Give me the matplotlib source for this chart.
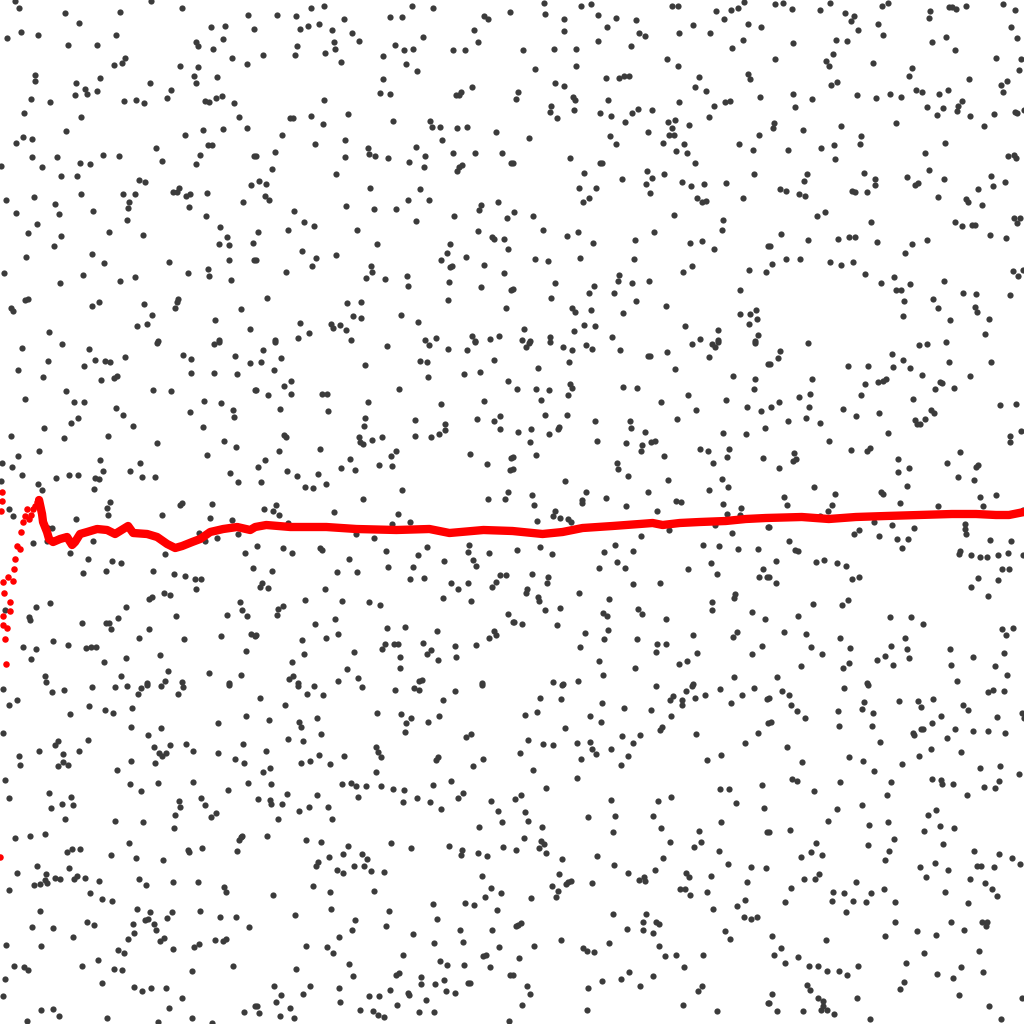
import numpy as np
import matplotlib
matplotlib.use("Agg")
import matplotlib.pyplot as plt

# sample index (0..1023) and sample value (0..1024 scale)
dots_upper = [
    (15,1023), (19,1016), (65,1011), (79,1001), (120,1012), (151,1023), (182,1016), (248,1009), (211,997), (225,998),
    (254,995), (7,986), (21,992), (38,989), (68,979), (97,979), (116,989), (196,982), (198,978), (213,975),
    (223,985), (232,966), (247,960), (125,966), (122,961), (114,959), (180,958), (198,957), (194,948), (196,941),
    (217,947), (35,949), (35,943), (76,941), (100,946), (85,935), (87,930), (75,929), (97,933), (150,941),
    (171,934), (167,926), (31,925), (50,922), (124,923), (136,924), (144,921), (205,923), (209,922), (216,926),
    (222,928), (234,921), (24,911), (81,907), (239,907), (66,893), (23,887), (32,885), (16,881), (203,894),
    (223,895), (247,896), (185,889), (156,876), (208,879), (212,879), (32,867), (57,867), (1,858), (42,857),
    (80,861), (90,860), (103,869), (119,868), (162,863), (200,869), (196,860), (254,868), (61,848), (77,848),
    (139,844), (145,842), (251,839), (6,824), (34,827), (16,811), (55,820), (59,810), (81,830), (93,813),
    (123,830), (135,830), (129,822), (128,816), (127,804), (173,832), (177,832), (179,836), (186,828), (190,830),
    (207,831), (189,817), (206,808), (243,822), (37,800), (28,791), (61,788), (54,778), (109,792), (143,789),
    (220,797), (227,787), (219,780), (229,779), (253,781), (26,767), (92,770), (104,761), (169,762), (229,764),
    (254,764), (4,751), (60,741), (83,749), (120,743), (135,747), (188,751), (208,755), (209,748), (231,744),
    (25,724), (28,725), (11,716), (13,713), (92,718), (99,722), (144,720), (152,709), (175,716), (177,722),
    (178,725), (137,698), (147,700), (215,704), (241,715), (250,695), (49,692), (219,684), (158,683),
    (277,1009), (296,1008), (311,1016), (324,1018), (300,995), (308,998), (319,1000), (332,994), (344,1005), (352,991),
    (359,983), (334,982), (335,975), (325,971), (341,962), (297,978), (295,969), (263,969), (390,1007), (402,1007),
    (412,1018), (433,1016), (395,979), (404,974), (413,975), (383,968), (406,960), (417,953), (423,987), (453,974),
    (465,974), (474,994), (478,982), (484,1008), (488,1005), (510,1012), (383,945), (380,931), (390,930), (456,929),
    (459,929), (461,932), (472,937), (324,924), (290,906), (293,906), (311,908), (323,900), (348,910), (393,903),
    (430,903), (432,897), (440,897), (457,896), (467,897), (442,884), (496,892), (282,889), (315,880), (345,884),
    (275,872), (345,867), (368,876), (369,870), (375,868), (388,866), (416,877), (409,862), (425,868), (424,857),
    (453,871), (475,871), (502,871), (511,861), (256,868), (272,855), (336,850), (457,853), (459,857), (462,859),
    (259,843), (266,840), (265,828), (269,824), (370,836), (420,835), (408,824), (429,824), (346,818), (374,815),
    (396,815), (294,813), (304,802), (314,798), (288,794), (258,792), (357,794), (416,803), (454,808), (479,814),
    (481,819), (498,822), (507,806), (478,793), (492,787), (494,785), (504,785), (508,775), (450,780), (447,771),
    (441,764), (450,757), (452,758), (466,767), (484,759), (504,751), (449,742), (481,737), (511,734), (302,773),
    (316,766), (312,758), (336,769), (377,780), (256,764), (286,752), (371,758), (372,752), (366,746), (385,745),
    (407,748), (408,738), (267,726), (347,721), (361,722), (448,724), (506,716), (300,701), (331,700), (333,696),
    (340,699), (353,708), (361,706), (346,694), (401,709), (418,702), (309,691), (298,686), (275,684), (351,684),
    (425,684), (436,686), (472,688), (475,683), (490,685), (499,688),
    (543,1021), (580,1018), (590,1020), (544,1010), (563,1005), (563,993), (597,1009), (606,997), (615,1006), (635,1004),
    (638,991), (644,988), (597,983), (630,978), (553,975), (575,975), (522,974), (671,1018), (677,1018), (678,991),
    (692,999), (709,991), (715,1013), (723,1005), (730,1014), (737,1016), (743,1022), (747,1000), (760,997), (742,984),
    (731,976), (666,965), (677,958), (534,955), (575,958), (554,941), (563,938), (605,946), (618,946), (623,948),
    (628,948), (698,947), (694,937), (705,933), (747,950), (749,945), (517,932), (515,925), (572,927), (574,924),
    (550,918), (549,912), (556,906), (573,914), (607,924), (599,911), (610,908), (624,902), (631,911), (637,915),
    (651,914), (678,922), (713,918), (724,922), (729,923), (759,927), (708,907), (667,902), (674,904), (671,896),
    (668,889), (673,889), (688,899), (528,886), (609,888), (615,880), (647,892), (662,881), (683,880), (675,873),
    (686,871), (738,880), (752,874), (758,889), (512,861), (569,866), (599,861), (601,861), (583,851), (621,845),
    (646,853), (651,846), (645,840), (649,831), (663,850), (681,842), (690,838), (703,840), (694,861), (725,841),
    (753,850), (578,836), (595,836), (588,826), (582,822), (696,826), (701,822), (705,823), (742,826), (513,812),
    (532,808), (542,794), (566,788), (577,792), (592,781), (673,809), (653,792), (634,784), (689,781), (701,783),
    (713,775), (721,794), (722,804), (767,778), (534,765), (547,763), (579,766), (633,765), (682,752), (691,758),
    (748,754), (765,752), (512,735), (554,741), (550,726), (593,738), (588,731), (618,749), (617,743), (631,741),
    (613,731), (635,723), (648,743), (665,718), (739,734), (755,714), (571,716), (574,712), (590,714), (622,711),
    (583,699), (594,698), (573,693), (523,695), (521,684), (529,683), (549,687), (611,687), (684,698), (699,685),
    (717,694), (717,684), (739,710), (749,710), (756,705), (748,700), (757,689), (754,683),
    (774,1020), (782,1021), (791,1015), (819,1014), (829,1021), (844,1011), (853,1008), (850,1003), (857,994), (881,1018),
    (887,1021), (877,1000), (882,989), (835,984), (846,983), (792,981), (774,965), (825,963), (828,958), (832,970),
    (872,961), (929,1013), (928,1006), (948,1017), (951,1017), (955,1015), (965,1018), (1002,1020), (1014,1014), (1010,997),
    (1016,986), (931,982), (945,987), (954,974), (995,966), (1020,965), (1018,954), (911,956), (908,948), (830,939),
    (836,942), (792,930), (811,925), (794,917), (856,929), (875,926), (889,930), (900,927), (915,934), (921,932),
    (938,930), (947,934), (968,945), (1000,939), (1006,943), (1002,932), (926,917), (936,909), (942,916), (956,913),
    (957,918), (961,923), (969,908), (993,910), (1014,912), (1016,911), (1023,914), (773,901), (772,896), (802,894),
    (840,898), (860,888), (859,880), (833,879), (820,876), (787,874), (834,865), (895,901), (944,881), (924,871),
    (983,898), (1007,868), (1013,869), (1015,866), (806,850), (803,843), (779,835), (785,833), (798,830), (804,828),
    (863,851), (874,845), (874,839), (851,833), (854,832), (866,832), (906,847), (914,839), (917,841), (928,854),
    (943,845), (937,827), (965,825), (967,822), (977,835), (981,819), (990,848), (992,838), (1004,842), (824,812),
    (816,808), (870,802), (780,790), (807,784), (837,785), (848,787), (854,787), (876,782), (769,778), (785,765),
    (799,765), (771,760), (829,762), (840,759), (852,762), (864,750), (880,741), (893,747), (895,734), (900,734),
    (904,771), (911,780), (926,784), (954,802), (961,798), (971,799), (974,799), (989,789), (1005,786), (1013,806),
    (1016,801), (1019,806), (909,740), (903,723), (902,708), (943,743), (932,725), (937,716), (962,731), (975,730),
    (974,717), (976,712), (988,705), (949,704), (984,690), (1009,729), (1012,753), (1017,748), (1022,754),
]

dots_middle = [
    (22,676), (62,680), (89,675), (157,681), (214,680), (219,682), (18,654), (48,663), (84,658), (95,664),
    (105,663), (110,662), (125,667), (183,669), (191,665), (191,651), (214,651), (235,668), (237,650), (250,661),
    (43,647), (101,644), (114,646), (117,648), (153,634), (171,633), (25,625), (66,633), (74,622), (84,622),
    (116,616), (123,609), (190,612), (204,623), (221,621), (233,614), (234,607), (255,634), (71,601), (78,606),
    (44,596), (133,598), (203,597), (11,588), (64,586), (108,588), (157,581), (224,583), (236,577), (39,573),
    (18,568), (207,569), (2,561), (12,557), (100,564), (140,561), (22,549), (56,546), (69,549), (78,549),
    (95,546), (99,545), (103,553), (130,553), (142,547), (155,547), (230,551), (238,542), (1,543), (38,540),
    (42,534), (94,535), (110,522), (107,516), (108,509), (162,509), (180,519), (182,521), (212,520), (210,506),
    (232,504), (9,515), (13,508), (76,505), (48,496), (52,496), (33,481), (47,483), (70,471), (93,483),
    (199,491), (205,483), (217,486), (238,490), (245,471), (253,456), (88,465), (112,463), (121,461), (106,453),
    (83,451), (153,453), (165,470), (174,450), (185,448), (195,445), (201,445), (196,435), (164,431), (170,429),
    (149,425), (152,427), (126,417), (36,417), (50,421), (5,414), (29,407), (30,404), (82,401), (106,401),
    (109,401), (111,395), (118,406), (149,395), (139,386), (176,408), (184,385), (227,409), (240,422), (242,414),
    (247,408), (251,390), (255,388), (221,388), (246,373), (23,377), (36,375), (53,383), (68,379), (86,376),
    (91,377), (96,377), (104,362), (126,366), (160,369), (31,365), (45,348), (46,342), (121,348), (168,353),
    (165,343), (182,342), (147,341), (209,351), (229,341), (241,349),
    (275,682), (263,674), (261,662), (281,666), (274,654), (256,634), (268,629), (284,638), (291,630), (291,643),
    (322,630), (327,630), (328,613), (280,615), (365,659), (368,622), (365,606), (364,598), (359,587), (360,582),
    (363,580), (372,584), (382,587), (387,678), (420,663), (427,662), (428,647), (429,679), (448,675), (467,674),
    (475,682), (464,650), (480,652), (494,664), (508,643), (399,635), (441,620), (445,600), (445,594), (439,590),
    (431,587), (415,604), (415,588), (484,623), (477,605), (494,603), (500,608), (500,595), (284,589), (286,587),
    (279,573), (320,575), (265,564), (258,557), (287,553), (297,548), (318,550), (326,540), (305,537), (313,536),
    (261,542), (350,565), (341,556), (355,554), (379,559), (391,568), (396,573), (392,558), (402,534), (363,525),
    (470,570), (487,560), (511,566), (510,554), (508,532), (505,525), (488,525), (264,515), (273,513), (276,519),
    (279,509), (334,512), (398,510), (410,502), (392,500), (288,501),
    (356,490), (374,486), (257,478), (283,476), (292,471), (320,476), (322,474), (349,465), (337,452), (357,452),
    (386,473), (388,457), (418,469), (427,477), (413,457), (410,445), (424,446), (444,463), (469,479), (468,472),
    (473,464), (476,458), (489,471), (500,449), (506,449), (496,442), (492,437), (451,441), (458,435), (468,441),
    (443,426), (471,423), (272,453), (262,441), (260,437), (268,436), (325,435), (305,424), (342,423), (283,418),
    (278,415), (277,409), (369,422), (380,419), (335,405), (315,400), (256,389), (338,390), (326,386), (302,384),
    (304,370), (354,372), (387,396), (405,397), (385,380), (382,375), (394,380), (398,380), (400,367), (400,356),
    (423,381), (431,374), (427,370), (438,364), (437,393), (455,378), (456,367), (476,379), (489,386), (494,393),
    (496,389), (508,410), (512,402), (292,362), (289,345), (293,348), (347,355), (358,346), (338,343), (419,343),
    (422,344), (482,341), (298,341),
    (525,677), (528,681), (549,682), (562,677), (571,674), (585,679), (591,675), (619,674), (647,668), (649,668),
    (666,672), (691,680), (708,667), (711,680), (714,677), (717,682), (754,681), (767,660), (537,656), (568,662),
    (674,655), (732,648), (754,645), (516,635), (535,635), (548,634), (540,624), (569,640), (571,636), (567,629),
    (622,637), (636,636), (660,622), (687,629), (695,614), (725,624), (746,617), (753,635), (760,613), (544,609),
    (566,609), (594,603), (629,603), (630,596), (644,592), (676,605), (722,591), (745,590), (764,596), (517,592),
    (530,595), (548,590), (557,595), (558,597), (529,582), (535,569), (596,583), (625,581), (641,579), (640,573),
    (650,582), (654,583), (663,568), (699,575), (707,573), (712,561), (728,575), (726,567), (762,566), (512,567),
    (512,555), (616,561), (617,555), (627,548), (667,544), (564,543), (531,529), (533,519), (581,524), (581,521),
    (585,532), (605,526), (625,518), (647,532), (656,513), (675,523), (680,522), (708,534), (721,545), (727,537),
    (722,520), (740,516), (726,510), (739,509), (554,513), (552,508), (559,506), (567,505), (570,502), (536,503),
    (668,494), (640,488), (714,499), (731,491), (767,497), (539,477), (516,474), (551,470), (614,479), (603,472),
    (632,473), (702,479), (718,478), (737,475), (757,475), (598,456), (616,462), (624,456), (687,455), (710,461),
    (716,450), (762,455), (758,447), (766,447), (531,450), (547,447), (546,441), (526,435), (525,431), (537,427),
    (538,423), (544,414), (559,416), (578,431), (608,425), (602,411), (606,408), (632,440), (659,441), (637,415),
    (641,410), (665,405), (711,422), (711,414), (734,430), (733,426), (751,412), (764,405), (513,402), (521,400),
    (556,399), (584,391), (607,394), (603,385), (579,377), (636,385), (656,380), (665,380), (655,372), (692,389),
    (696,371), (732,387), (736,392), (761,378), (751,370), (598,363), (634,356), (678,360), (686,363), (602,349),
    (552,342), (562,340), (577,343), (733,347), (692,340),
    (807,681), (779,673), (777,666), (769,660), (847,658), (867,658), (891,670), (892,657), (902,664), (909,656),
    (918,679), (926,680), (945,682), (921,649), (948,662), (990,662), (811,645), (798,627), (809,630), (808,617),
    (770,617), (778,622), (787,603), (805,606), (819,601), (842,615), (855,608), (864,640), (860,629), (877,642),
    (882,643), (885,645), (878,611), (887,591), (912,625), (934,635), (939,642), (941,641), (953,636), (969,648),
    (914,604), (916,600), (919,600), (924,605), (930,614), (933,611), (999,619), (1015,620), (1009,588), (1009,582),
    (1020,593), (828,583), (850,574), (866,573), (869,576), (793,571), (792,563), (795,565), (778,556), (897,565),
    (897,552), (908,556), (906,538), (946,561), (959,572), (957,547), (973,544), (975,557), (977,559), (813,537),
    (783,527), (786,519), (834,530), (831,519), (827,513), (819,508), (880,532), (882,530), (899,521), (937,518),
    (979,527), (982,518), (995,529), (1022,514),
    (768,497), (873,502), (891,499), (913,496), (878,488), (896,485), (907,485), (901,476), (853,490), (858,494),
    (964,500), (964,495), (965,490), (959,473), (958,470), (970,469), (979,467), (986,467), (989,484), (997,469),
    (1007,471), (1010,483), (1022,469), (1001,455), (1008,455), (977,446), (970,437), (997,444), (987,428), (788,483),
    (794,474), (797,473), (775,463), (815,462), (823,464), (836,461), (845,458), (851,445), (858,447), (775,441),
    (768,447), (812,420), (847,424), (841,419), (797,408), (889,407), (910,407), (922,400), (783,392), (805,390),
    (839,386), (810,377), (821,370), (849,376), (904,386), (906,375), (908,366), (890,378), (884,368), (876,364),
    (892,359), (848,361), (842,356), (800,358), (776,347), (866,341), (949,375), (950,359), (956,343), (972,367),
    (994,358), (1001,395), (1005,389), (1012,396), (1003,371), (1006,349),
]

dots_lower = [
    (3,335), (52,332), (64,334), (92,337), (115,337), (127,338), (138,330), (141,336), (147,339), (161,338),
    (178,330), (183,337), (229,339), (9,319), (17,324), (70,310), (89,318), (105,314), (113,311), (132,316),
    (3,291), (131,297), (161,296), (148,289), (218,301), (246,308), (39,273), (55,279), (58,283), (63,270),
    (63,262), (58,258), (68,259), (79,273), (88,284), (19,268), (20,259), (154,277), (159,271), (162,268),
    (166,271), (170,279), (186,280), (193,273), (218,271), (243,280), (235,265), (244,261), (131,263), (155,261),
    (117,254), (5,244), (9,226), (49,231), (51,216), (62,220), (71,227), (73,219), (65,205), (130,240),
    (141,233), (158,241), (193,242), (228,234), (248,241), (179,223), (180,217), (201,226), (205,219), (175,209),
    (174,196), (211,207), (216,211), (115,203), (143,202), (15,186), (30,188), (45,190), (239,184), (241,187),
    (242,188), (237,173), (129,181), (202,176), (188,174), (189,172), (163,164), (136,166), (111,169), (67,172),
    (72,175), (80,175), (37,158), (46,150), (17,151), (9,134), (34,139), (40,140), (45,144), (47,141),
    (55,146), (60,145), (69,156), (77,148), (74,145), (85,146), (99,143), (90,131), (102,125), (112,123),
    (139,145), (146,139), (173,142), (198,142), (224,137), (226,132), (40,113), (32,97), (53,96), (73,87),
    (87,102), (94,99), (137,115), (150,112), (145,104), (148,105), (154,100), (156,94), (133,100), (134,91),
    (128,85), (167,106), (172,112), (160,83), (164,86), (173,75), (200,113), (220,107), (236,107), (249,97),
    (215,84), (223,83), (226,85), (194,77), (199,80), (6,79), (41,78), (118,74), (124,71), (98,64),
    (82,58), (14,58), (24,57), (28,54), (114,55), (122,54), (192,53), (233,58), (5,45), (102,41),
    (134,37), (142,33), (151,36), (166,36), (182,26), (3,28), (41,14), (53,15), (59,8), (27,3),
    (107,6), (158,2), (169,16), (192,6), (212,1), (244,12), (255,18),
    (298,338), (314,338), (307,330), (323,329), (260,326), (285,319), (362,337), (395,334), (414,336), (419,334),
    (455,333), (443,324), (482,339), (269,304), (299,302), (301,297), (317,306), (288,285), (303,283), (321,290),
    (377,311), (401,310), (411,306), (406,301), (405,292), (428,302), (439,308), (466,287), (471,290), (266,273),
    (270,256), (263,252), (301,261), (310,263), (319,269), (330,260), (344,268), (376,277), (378,272), (381,267),
    (376,252), (436,264), (438,267), (473,258), (483,265), (271,240), (287,230), (258,225), (270,224), (271,220),
    (282,220), (299,213), (309,217), (317,229), (328,217), (332,205), (278,205), (342,240), (351,241), (356,238),
    (366,238), (358,227), (381,238), (393,235), (404,234), (403,222), (417,226), (433,239), (430,222), (441,215),
    (451,243), (463,231), (458,226), (491,223), (498,213), (502,202), (479,197), (267,188), (306,184), (321,182),
    (348,178), (391,181), (411,176), (449,178), (462,174), (461,169), (478,171), (487,168), (503,177), (329,167),
    (343,170), (318,162), (316,158), (337,154), (343,151), (354,158), (362,170), (367,165), (364,158), (371,153),
    (384,152), (273,129), (313,138), (330,132), (331,115), (374,133), (295,109), (355,104), (352,94), (339,87),
    (386,98), (389,113), (413,90), (433,120), (437,105), (434,81), (465,121), (474,119), (482,148), (491,136),
    (485,127), (501,131), (497,114), (460,94), (463,82), (492,94), (499,77), (483,68), (486,69), (490,57),
    (464,59), (306,78), (327,77), (333,71), (349,60), (353,48), (403,69), (440,63), (447,59), (296,55),
    (274,38), (281,29), (310,38), (303,30), (276,22), (257,18), (259,11), (290,16), (280,8), (294,6),
    (339,36), (340,22), (360,14), (369,28), (379,28), (373,13), (378,9), (384,7), (390,34), (396,49),
    (399,51), (408,31), (409,29), (397,19), (421,47), (421,40), (435,40), (426,24), (419,12), (434,12),
    (444,44), (446,33), (455,31), (468,41), (470,41), (510,49), (509,3),
    (561,339), (539,326), (560,325), (601,321), (623,316), (524,309), (536,312), (589,308), (600,302), (564,296),
    (655,338), (669,324), (672,328), (681,324), (681,319), (685,333), (691,338), (694,326), (704,329), (719,335),
    (730,321), (741,329), (753,336), (766,325), (767,301), (650,314), (670,308), (659,294), (661,297), (695,290),
    (757,291), (744,281), (527,284), (542,280), (552,279), (576,281), (589,282), (591,275), (595,270), (580,265),
    (610,275), (621,288), (632,281), (639,289), (627,268), (620,259), (519,271), (532,254), (576,246), (545,236),
    (514,225), (520,229), (706,264), (720,269), (719,235), (728,235), (735,221), (761,239), (763,216), (766,192),
    (610,224), (614,208), (612,192), (587,207), (657,223), (670,227), (652,208), (660,196), (669,182), (524,212),
    (527,203), (541,197), (523,186), (540,183), (543,180), (538,176), (545,171), (515,174), (561,165), (558,150),
    (551,138), (557,133), (555,127), (565,140), (567,142), (570,143), (530,126), (591,141), (596,168), (613,159),
    (627,151), (638,144), (643,147), (644,143), (654,154), (662,166), (685,151), (688,147), (679,135), (684,135),
    (689,129), (693,177), (698,193), (700,182), (710,148), (706,132), (718,173), (720,202), (727,160), (750,157),
    (765,156), (746,142), (744,124), (736,118), (712,115), (743,107), (750,105), (756,107), (724,93), (729,85),
    (515,98), (517,99), (520,101), (533,78), (560,84), (518,66), (582,76), (586,73), (593,72), (608,81),
    (612,110), (626,95), (642,102), (642,94), (645,110), (655,102), (658,100), (652,91), (658,78), (664,68),
    (675,69), (702,69), (683,57), (512,49), (526,38), (529,30), (521,19), (587,36), (601,43), (620,45),
    (628,52), (639,38), (652,48), (586,14), (682,19), (697,33), (701,38), (716,13), (767,21),
    (781,333), (788,329), (790,319), (796,313), (804,306), (770,302), (768,326), (843,336), (867,339), (837,313),
    (838,298), (863,322), (861,315), (872,311), (871,298), (879,282), (898,323), (917,323), (920,317), (932,325),
    (931,301), (940,308), (912,291), (913,289), (920,295), (922,295), (946,286), (954,295), (962,319), (967,314),
    (972,293), (987,293), (996,307), (1004,291), (987,332), (992,334), (1003,333), (1021,311), (1023,306), (786,277),
    (801,262), (848,267), (862,263), (873,253), (901,260), (918,268), (930,275), (960,272), (979,256), (999,258),
    (1018,250), (791,245), (796,243), (813,233), (839,242), (890,242), (886,229), (861,219), (931,245), (940,244),
    (941,240), (952,240), (966,229), (983,237), (994,236), (998,243), (768,192), (789,194), (827,203), (836,215),
    (868,199), (887,202), (893,185), (888,173), (884,164), (867,179), (935,214), (927,209), (939,198), (953,196),
    (923,193), (942,180), (973,173), (998,170), (1011,166), (1019,160), (976,158), (980,158), (993,157), (947,154),
    (919,157), (934,161), (925,147), (969,145), (984,141), (991,135), (996,128), (944,132), (967,121), (800,167),
    (810,172), (815,181), (821,169), (803,145), (814,145), (818,150), (790,136), (784,122), (832,132), (831,123),
    (843,131), (852,123), (855,142), (865,122), (870,131), (883,135), (894,122), (845,112), (894,102), (884,88),
    (916,93), (935,89), (950,102), (963,94), (981,102), (986,102), (985,98), (978,73), (923,71), (905,61),
    (903,42), (899,35), (936,50), (952,46), (960,57), (982,52), (958,29), (988,18), (1000,5), (1021,26),
    (771,88), (780,76), (773,69), (784,61), (797,67), (808,58), (817,58), (826,53), (838,53), (846,49),
    (857,58), (825,84), (806,39), (809,34), (817,26), (822,23), (822,18), (820,14), (826,14), (833,10),
    (856,26), (869,5), (771,30), (768,21), (776,13), (802,13),
]

# running mean: the first few noisy estimates, then the settled curve
mean_start = [
    (0,167), (1,513), (2,523), (2,532), (6,360), (5,385), (3,399), (7,396), (3,408), (10,413),
    (10,422), (4,431), (3,442), (13,443), (8,447), (14,455), (15,465), (20,475), (17,478), (21,492),
    (23,502), (27,515), (31,509), (33,515), (37,522), (25,508), (29,505), (35,518),
]
mean_curve = [
    (39,524), (42,510), (43,502), (47,492), (49,485), (53,482), (60,485), (67,487), (72,479), (75,482),
    (80,490), (87,492), (97,495), (107,494), (115,490), (128,498), (133,491), (147,490), (157,487), (167,480),
    (175,476), (182,478), (192,482), (200,485), (210,492), (223,495), (237,497), (250,494), (255,497), (266,499),
    (290,497), (326,497), (356,495), (396,494), (429,495), (449,491), (483,494), (512,493), (532,491), (542,490),
    (562,492), (582,496), (612,498), (639,500), (652,501), (662,499), (679,501), (699,502), (725,503), (745,505),
    (765,506), (801,507), (828,505), (855,507), (885,508), (918,509), (951,510), (975,510), (995,509), (1008,509),
    (1023,512),
]


def unzip(points):
    arr = np.array(points, dtype=float)
    return arr[:, 0], arr[:, 1]


fig = plt.figure(figsize=(10.24, 10.24), dpi=100)
ax = fig.add_axes([0, 0, 1, 1])

for pts in (dots_upper, dots_middle, dots_lower):
    x, y = unzip(pts)
    ax.scatter(x, y, s=20, color="#3b3b3b", linewidths=0, zorder=2)

x, y = unzip(mean_start)
ax.scatter(x, y, s=22, color="red", linewidths=0, zorder=3)
x, y = unzip(mean_curve)
ax.plot(x, y, color="red", lw=6, solid_capstyle="round", solid_joinstyle="round", zorder=3)

ax.set_xlim(0, 1023)
ax.set_ylim(0, 1024)
ax.axis("off")

fig.savefig("out.png", dpi=100)
